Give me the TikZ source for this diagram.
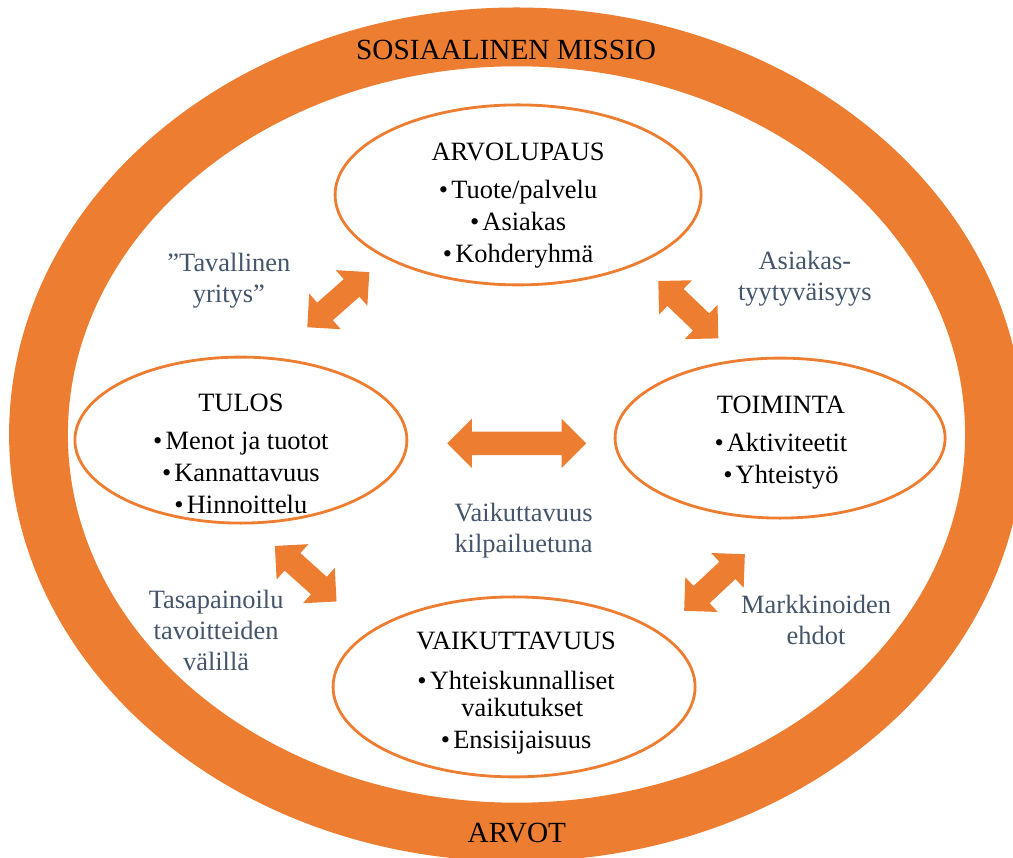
\documentclass[tikz,border=0pt]{standalone}
\usepackage{fontspec}
\setmainfont{Liberation Serif}
\usetikzlibrary{shapes.geometric, shapes.arrows}
\definecolor{oranssi}{HTML}{ED7D31}
\definecolor{harmaa}{HTML}{44546A}
\tikzset{
  osa/.style={ellipse, draw=oranssi, line width=2pt, inner sep=0pt},
  osateksti/.style={anchor=base, align=center, inner sep=0pt, font=\fontsize{18.8}{22.8}\selectfont},
  selite/.style={anchor=base, align=center, inner sep=0pt, text=harmaa, font=\fontsize{18.8}{22}\selectfont},
  kehys/.style={anchor=base, inner sep=0pt, font=\fontsize{20.8}{25}\selectfont},
  nuoli/.style={double arrow, fill=oranssi, inner sep=0.2875cm, double arrow head extend=0.3cm, minimum height=2.075cm}
}
\newcommand{\kohta}{\textbullet\hspace{0.12em}}

\begin{document}
\begin{tikzpicture}

\useasboundingbox (-12.9125,-10.5625) rectangle (12.4125,10.8625);
\draw[oranssi, line width=1.47cm] (0,0) ellipse [x radius=11.95cm, y radius=9.94cm];
\node[kehys] (missio) at (-0.26,9.38) {SOSIAALINEN MISSIO};
\node[kehys] (arvot) at (0.01,-10.21) {ARVOT};

\node[osa, minimum width=9.15cm, minimum height=4.5cm] (arvolupaus) at (0.04,5.99) {};
\node[osa, minimum width=8.3cm, minimum height=4.15cm] (tulos) at (-6.89,-0.14) {};
\node[osa, minimum width=8.25cm, minimum height=4cm] (toiminta) at (6.59,-0.09) {};
\node[osa, minimum width=9.05cm, minimum height=4.5cm] (vaikuttavuus) at (-0.06,-6.31) {};

\node[osateksti] (arvolupaus-t) at (0.04,4.29) {ARVOLUPAUS\\[0.15cm]\kohta Tuote/palvelu\\\kohta Asiakas\\\kohta Kohderyhmä};
\node[osateksti] (tulos-t) at (-6.89,-1.97) {TULOS\\[0.15cm]\kohta Menot ja tuotot\\\kohta Kannattavuus\\\kohta Hinnoittelu};
\node[osateksti] (toiminta-t) at (6.61,-1.22) {TOIMINTA\\[0.15cm]\kohta Aktiviteetit\\\kohta Yhteistyö};
\node[osateksti] (vaikuttavuus-t) at (-0.01,-7.86) {VAIKUTTAVUUS\\[0.2cm]\kohta Yhteiskunnalliset\\[-0.13cm]\phantom{\kohta}vaikutukset\\\kohta Ensisijaisuus};

\node[nuoli, rotate=41.6] (n-tulos-arvo) at (-4.455,3.37) {};
\node[nuoli, rotate=-43.7] (n-arvo-toiminta) at (4.295,3.12) {};
\node[nuoli, minimum height=3.475cm, double arrow head extend=0.32cm] (n-tulos-toiminta) at (0.005,-0.22) {};
\node[nuoli, rotate=-42] (n-tulos-vaik) at (-5.27,-3.48) {};
\node[nuoli, rotate=43] (n-vaik-toiminta) at (4.95,-3.7) {};

\node[selite] (tavallinen) at (-7.19,3.29) {”Tavallinen\\yritys”};
\node[selite] (tyytyvaisyys) at (7.21,3.36) {Asiakas-\\tyytyväisyys};
\node[selite] (kilpailuetu) at (0.175,-2.94) {Vaikuttavuus\\kilpailuetuna};
\node[selite] (tasapaino) at (-7.51,-5.89) {Tasapainoilu\\tavoitteiden\\välillä};
\node[selite] (markkinat) at (7.49,-5.26) {Markkinoiden\\ehdot};

\end{tikzpicture}
\end{document}
